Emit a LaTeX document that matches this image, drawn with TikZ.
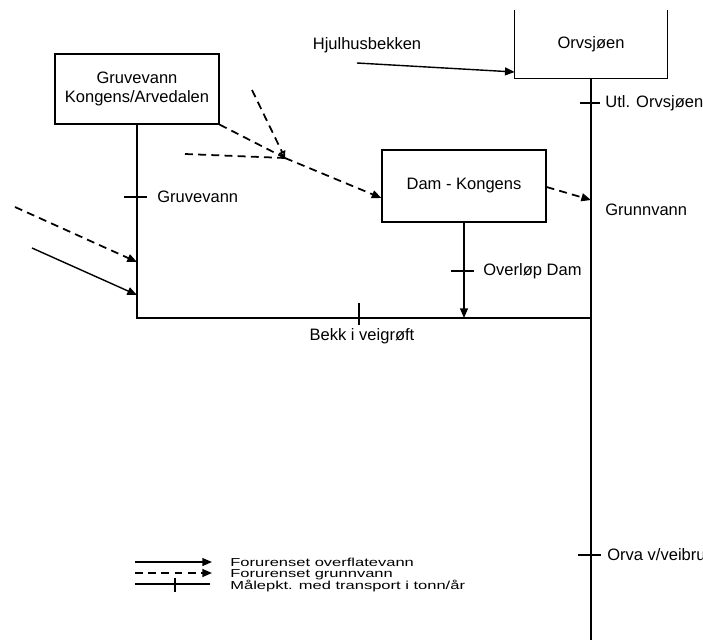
\documentclass[tikz,border=0pt]{standalone}
\usepackage{fontspec}
\setmainfont{Liberation Sans}
\usetikzlibrary{arrows.meta, positioning, calc}
\newcommand{\squash}[1]{\scalebox{1}[0.7]{#1}}
\tikzset{
    box/.style={rectangle, draw, line width=0.7pt, minimum width=3.28cm, minimum height=1.4cm, align=center},
    stream/.style={line width=0.8pt},
    flow/.style={line width=0.8pt, -{Triangle[length=5.5pt, width=4.5pt]}},
    seep/.style={line width=1pt, dash pattern=on 4.5pt off 3pt, -{Triangle[length=5.5pt, width=4.5pt]}},
    tickmark/.style={line width=0.8pt},
    sitename/.style={anchor=west, inner sep=0pt},
    legendtext/.style={anchor=base west, inner sep=0pt}
}

\begin{document}
\begin{tikzpicture}[x=0.02cm, y=-0.02cm, font=\fontsize{9.4}{11.3}\selectfont]
    \useasboundingbox (0,0) rectangle (703,643);

    % boxes
    \node[box] (gruv) at (137,89) {Gruvevann\\Kongens/Arvedalen};
    \node[box, minimum height=1.44cm] (dam) at (464,186) {Dam - Kongens};
    \node[minimum width=3.04cm, minimum height=1.36cm] (orv) at (591,44) {Orvsjøen};
    \draw[line width=0.7pt] (orv.north west) -- (orv.south west) -- (orv.south east) -- (orv.north east);

    % points
    \coordinate (meet) at (591,318);
    \coordinate (bottom) at (591,640);
    \coordinate (junc) at (285,158);
    \coordinate (topin) at (252,90);
    \coordinate (midin) at (185,154);
    \coordinate (hjulstart) at (357,63);
    \coordinate (seepin) at (15,207);
    \coordinate (flowin) at (32,248);

    % main streams
    \draw[stream] (gruv.south) |- (meet);
    \draw[stream] (orv.south) -- (bottom);
    \draw[flow] (dam.south) -- (dam.south |- meet);
    \draw[flow] (hjulstart) -- ([yshift=-0.56cm]orv.west);
    \node (hjul) at (367,45) {Hjulhusbekken};

    % inflow from the left
    \draw[seep] (seepin) -- (gruv.south |- 0,262);
    \draw[flow] (flowin) -- (gruv.south |- 0,295);

    % groundwater towards the dam
    \draw[seep, -{Triangle[open, length=4pt, width=4pt]}] (topin) -- (junc);
    \draw[seep, -] (midin) -- (junc);
    \draw[seep, -] (gruv.south east) -- (junc);
    \draw[seep] (junc) -- ([yshift=-0.24cm]dam.west);
    \draw[seep] ([yshift=-0.02cm]dam.east) -- (meet |- 0,200);
    \node[sitename] (grunn) at (605,210) {Grunnvann};

    % measuring points
    \coordinate (t1) at (137,197);
    \coordinate (t2) at (463,271);
    \coordinate (t3) at (591,103);
    \coordinate (t4) at (591,555);
    \coordinate (t5) at (359,318);
    \draw[tickmark] ([xshift=-0.26cm]t1) -- ([xshift=0.2cm]t1);
    \draw[tickmark] ([xshift=-0.24cm]t2) -- ([xshift=0.22cm]t2);
    \draw[tickmark] ([xshift=-0.22cm]t3) -- ([xshift=0.18cm]t3);
    \draw[tickmark] ([xshift=-0.26cm]t4) -- ([xshift=0.2cm]t4);
    \draw[tickmark] ([yshift=0.3cm]t5) -- ([yshift=-0.14cm]t5);
    \node[sitename] (gruvlab) at (157,197) {Gruvevann};
    \node[sitename] (overlab) at (483,271) {Overløp Dam};
    \node[sitename] (utllab) at (605,103) {Utl. Orvsjøen};
    \node[sitename] (orvalab) at (607,555) {Orva v/veibru};
    \node (bekklab) at (362,336) {Bekk i veigrøft};

    % legend
    \coordinate (lg1) at (135,562);
    \coordinate (lg2) at (135,573);
    \coordinate (lg3) at (135,584);
    \draw[flow] (lg1) -- ++(77,0);
    \draw[seep] (lg2) -- ++(77,0);
    \draw[tickmark] (lg3) -- ++(75,0);
    \draw[tickmark] ([yshift=0.13cm]175,584) -- ([yshift=-0.15cm]175,584);
    \node[legendtext] (lgtext1) at (230,566) {\squash{Forurenset overflatevann}};
    \node[legendtext] (lgtext2) at (230,577.5) {\squash{Forurenset grunnvann}};
    \node[legendtext] (lgtext3) at (230,589) {\squash{Målepkt. med transport i tonn/år}};
\end{tikzpicture}
\end{document}
